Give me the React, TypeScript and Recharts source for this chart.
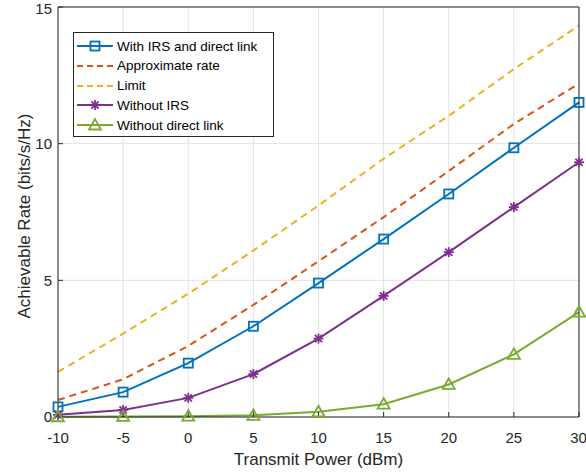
import React from 'react';
import { LineChart, Line, XAxis, YAxis, CartesianGrid } from 'recharts';

const powerDbm = [-10, -5, 0, 5, 10, 15, 20, 25, 30];
const withIrsDirect = [0.37, 0.91, 1.97, 3.32, 4.9, 6.51, 8.16, 9.85, 11.51];
const approxRate = [0.62, 1.38, 2.6, 4.1, 5.7, 7.31, 9.0, 10.72, 12.2];
const limitRate = [1.65, 3.05, 4.51, 6.09, 7.74, 9.45, 11.02, 12.73, 14.32];
const withoutIrs = [0.08, 0.26, 0.7, 1.57, 2.87, 4.43, 6.03, 7.68, 9.32];
const withoutDirect = [0.01, 0.02, 0.03, 0.06, 0.19, 0.47, 1.19, 2.29, 3.84];
const xTicks = [-10, -5, 0, 5, 10, 15, 20, 25, 30];
const yTicks = [0, 5, 10, 15];

const AX = '#262626';
const FONT = '"Liberation Sans", Arial, Helvetica, sans-serif';

const data = powerDbm.map((p, i) => ({
  p,
  withIrs: withIrsDirect[i],
  approx: approxRate[i],
  limit: limitRate[i],
  noIrs: withoutIrs[i],
  noDirect: withoutDirect[i],
}));

type Marker = 'square' | 'star' | 'triangle' | null;

function MarkerShape({ kind, cx, cy, color }: { kind: Marker; cx: number; cy: number; color: string }) {
  if (kind === 'square') {
    return <rect x={cx - 4.5} y={cy - 4.5} width={9} height={9} fill="none" stroke={color} strokeWidth={1.8} />;
  }
  if (kind === 'triangle') {
    return (
      <polygon
        points={`${cx},${cy - 6} ${cx - 6},${cy + 4.5} ${cx + 6},${cy + 4.5}`}
        fill="none"
        stroke={color}
        strokeWidth={1.8}
      />
    );
  }
  if (kind === 'star') {
    const r = 5;
    const d = r * 0.72;
    return (
      <g stroke={color} strokeWidth={1.8}>
        <line x1={cx - r} y1={cy} x2={cx + r} y2={cy} />
        <line x1={cx} y1={cy - r} x2={cx} y2={cy + r} />
        <line x1={cx - d} y1={cy - d} x2={cx + d} y2={cy + d} />
        <line x1={cx - d} y1={cy + d} x2={cx + d} y2={cy - d} />
      </g>
    );
  }
  return null;
}

const series = [
  { key: 'withIrs', name: 'With IRS and direct link', color: '#0072BD', dash: undefined, marker: 'square' as Marker },
  { key: 'approx', name: 'Approximate rate', color: '#D95319', dash: '7 5', marker: null },
  { key: 'limit', name: 'Limit', color: '#EDB120', dash: '7 5', marker: null },
  { key: 'noIrs', name: 'Without IRS', color: '#7E2F8E', dash: undefined, marker: 'star' as Marker },
  { key: 'noDirect', name: 'Without direct link', color: '#77AC30', dash: undefined, marker: 'triangle' as Marker },
];

function LegendBox() {
  return (
    <div
      style={{
        position: 'absolute',
        left: 73,
        top: 32,
        width: 199,
        height: 103,
        border: `1px solid ${AX}`,
        background: '#fff',
        fontFamily: FONT,
        fontSize: 13.5,
        color: '#000',
      }}
    >
      {series.map((s, i) => (
        <div key={s.key} style={{ position: 'absolute', left: 0, top: 3 + i * 19.8, height: 20, display: 'flex', alignItems: 'center' }}>
          <svg width={42} height={20}>
            <line x1={3} y1={10} x2={39} y2={10} stroke={s.color} strokeWidth={2} strokeDasharray={s.dash ? '6 4' : undefined} />
            <MarkerShape kind={s.marker} cx={21} cy={10} color={s.color} />
          </svg>
          <span style={{ marginLeft: 1, whiteSpace: 'nowrap' }}>{s.name}</span>
        </div>
      ))}
    </div>
  );
}

// y label drawn centred on the plot's vertical middle
const yLabel = (props: any) => {
  const vb = props.viewBox || {};
  const cy = (vb.y ?? 7) + (vb.height ?? 410) / 2 + 4;
  return (
    <text
      transform={`translate(29.5, ${cy}) rotate(-90)`}
      textAnchor="middle"
      fill={AX}
      fontSize={17}
      fontFamily={FONT}
    >
      Achievable Rate (bits/s/Hz)
    </text>
  );
};

export default function App() {
  const tickStyle = { fill: AX, fontSize: 15, fontFamily: FONT };
  return (
    <div style={{ position: 'absolute', left: 0, top: 0, width: 586, height: 472, background: '#fff' }}>
      <LineChart width={586} height={472} data={data} margin={{ top: 0, right: 0, bottom: 0, left: 0 }}>
        <CartesianGrid stroke="#e2e2e2" strokeWidth={1} />
        <XAxis
          dataKey="p"
          type="number"
          domain={[-10, 30]}
          ticks={xTicks}
          height={55}
          stroke={AX}
          tick={tickStyle}
          tickSize={-5}
          tickMargin={20}
          label={{ value: 'Transmit Power (dBm)', position: 'insideBottom', offset: 7, fill: AX, fontSize: 17, fontFamily: FONT }}
        />
        <XAxis
          xAxisId="top"
          orientation="top"
          dataKey="p"
          type="number"
          domain={[-10, 30]}
          ticks={xTicks}
          height={7}
          stroke={AX}
          tick={false}
          tickSize={-5}
        />
        <YAxis
          type="number"
          domain={[0, 15]}
          ticks={yTicks}
          width={58}
          stroke={AX}
          tick={tickStyle}
          tickSize={-5}
          tickMargin={11}
          label={{ content: yLabel }}
        />
        <YAxis
          yAxisId="right"
          orientation="right"
          type="number"
          domain={[0, 15]}
          ticks={yTicks}
          width={7}
          stroke={AX}
          tick={false}
          tickSize={-5}
        />
        {series.map((s) => (
          <Line
            key={s.key}
            dataKey={s.key}
            name={s.name}
            type="linear"
            stroke={s.color}
            strokeWidth={2}
            strokeDasharray={s.dash}
            isAnimationActive={false}
            dot={
              s.marker
                ? (props: any) => <MarkerShape key={`${s.key}-${props.index}`} kind={s.marker} cx={props.cx} cy={props.cy} color={s.color} />
                : false
            }
            activeDot={false}
          />
        ))}
      </LineChart>
      <LegendBox />
    </div>
  );
}
